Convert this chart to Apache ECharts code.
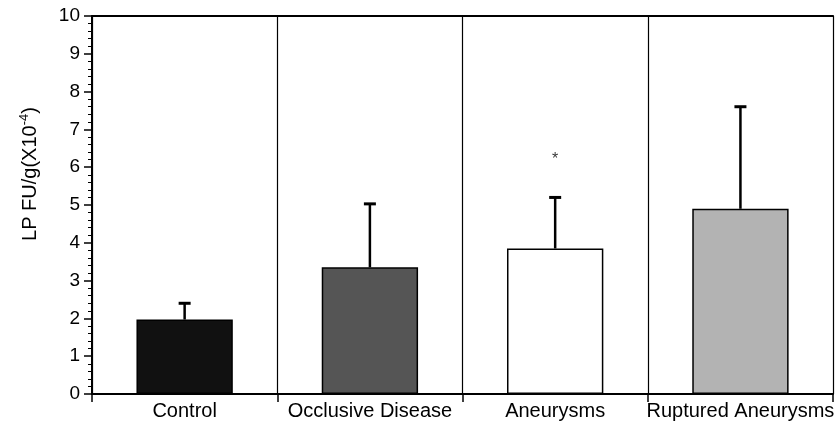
<!DOCTYPE html>
<html>
<head>
<meta charset="utf-8">
<script src="https://cdn.jsdelivr.net/npm/echarts@6/dist/echarts.min.js"></script>
<style>html,body{margin:0;padding:0;background:#fff}#c{width:837px;height:423px}</style>
</head>
<body>
<div id="c"></div>
<script>
var categories = ['Control', 'Occlusive Disease', 'Aneurysms', 'Ruptured Aneurysms'];
var means = [1.97, 3.35, 3.85, 4.9];
var errorTops = [2.4, 5.03, 5.2, 7.6];
var starValues = [null, null, 6.2, null];
var barColors = ['#111111', '#555555', '#ffffff', '#b3b3b3'];
var yTicks = [0, 1, 2, 3, 4, 5, 6, 7, 8, 9, 10];

var chart = echarts.init(document.getElementById('c'));
var font = 'Liberation Sans, Arial, Helvetica, sans-serif';

chart.setOption({
  animation: false,
  grid: { left: 92, right: 1, top: 16, bottom: 29, containLabel: false },
  xAxis: [{
    type: 'category',
    data: categories,
    boundaryGap: true,
    axisLine: { show: true, lineStyle: { color: '#000', width: 2 } },
    axisTick: { show: true, length: 8, lineStyle: { color: '#000', width: 1.5 } },
    splitLine: { show: true, lineStyle: { color: '#000', width: 1.2, type: 'solid' } },
    axisLabel: { color: '#000', fontSize: 20, fontFamily: font, margin: 7, interval: 0 }
  }, {
    type: 'category',
    position: 'top',
    data: categories,
    axisLine: { show: true, lineStyle: { color: '#000', width: 2 } },
    axisTick: { show: false },
    axisLabel: { show: false }
  }],
  yAxis: {
    type: 'value',
    min: 0, max: 10, interval: 1,
    name: 'LP FU/g(X10{sup|-4})',
    nameLocation: 'middle',
    nameGap: 50,
    nameRotate: 90,
    nameTextStyle: {
      color: '#000', fontSize: 20, fontFamily: font, padding: [0, 0, 0, 62],
      rich: { sup: { fontSize: 13, verticalAlign: 'top', padding: [0, 0, 11, 0], fontFamily: font, color: '#000' } }
    },
    axisLine: { show: true, lineStyle: { color: '#000', width: 2 } },
    axisTick: { show: true, length: 8, lineStyle: { color: '#000', width: 1.5 } },
    minorTick: { show: true, splitNumber: 5, length: 4, lineStyle: { color: '#000', width: 1 } },
    splitLine: { show: false },
    axisLabel: {
      color: '#000', fontSize: 19, fontFamily: font, margin: 12,
      formatter: function (v) { return yTicks.indexOf(v) >= 0 ? String(v) : ''; }
    }
  },
  series: [{
    type: 'bar',
    data: means.map(function (v, i) {
      return { value: v, itemStyle: { color: barColors[i], borderColor: '#000', borderWidth: 1.5 } };
    }),
    barWidth: '52%',
    z: 2
  }, {
    type: 'custom',
    z: 3,
    data: means.map(function (v, i) { return [i, v, errorTops[i]]; }),
    renderItem: function (params, api) {
      var x = api.value(0);
      var lo = api.coord([x, api.value(1)]);
      var hi = api.coord([x, api.value(2)]);
      var cap = 6;
      return {
        type: 'group',
        children: [
          { type: 'line', shape: { x1: lo[0], y1: lo[1], x2: hi[0], y2: hi[1] }, style: { stroke: '#000', lineWidth: 2.5 } },
          { type: 'line', shape: { x1: hi[0] - cap, y1: hi[1], x2: hi[0] + cap, y2: hi[1] }, style: { stroke: '#000', lineWidth: 3 } }
        ]
      };
    }
  }, {
    type: 'scatter',
    symbolSize: 0,
    data: starValues.map(function (v, i) { return v == null ? null : [i, v]; }).filter(function (d) { return d; }),
    label: { show: true, position: 'inside', formatter: '*', color: '#000', fontSize: 16, fontFamily: font }
  }]
});
</script>
</body>
</html>
